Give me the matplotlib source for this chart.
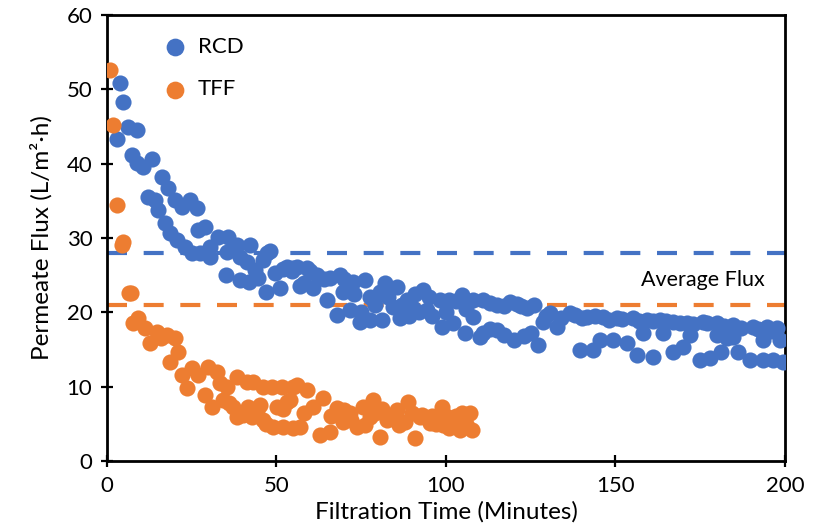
import numpy as np
import matplotlib.pyplot as plt

plt.rcParams['font.family'] = ['Lato', 'DejaVu Sans']

# RCD series (time in minutes, flux in L/m2.h)
rcd_t = [2.9, 3.8, 4.7, 6.2, 7.4, 8.8, 8.8, 10.6, 12.1, 13.3, 14.2, 15.1, 16.2, 17.1, 18.0,
         18.6, 20.0, 20.6, 22.0, 23.0, 24.5, 25.0, 26.5, 26.8, 27.4, 28.9, 30.4, 30.4, 32.7,
         35.0, 35.4, 35.7, 38.3, 39.2, 39.2, 41.3, 42.0, 42.2, 43.7, 44.5, 46.0, 47.0, 47.2,
         48.1, 49.6, 51.0, 52.0, 53.0, 54.5, 55.0, 56.0, 57.0, 58.0, 59.0, 60.0, 60.8, 62.0,
         64.0, 65.0, 65.8, 67.8, 68.7, 69.6, 70.0, 71.7, 72.6, 73.0, 74.6, 75.0, 76.0, 77.6,
         77.6, 79.0, 80.5, 81.0, 82.0, 83.0, 84.4, 85.5, 86.4, 87.0, 88.5, 89.0, 90.3, 91.0,
         92.0, 93.2, 94.4, 95.0, 96.0, 98.2, 98.8, 100.0, 101.0, 102.0, 103.0, 104.7, 105.6,
         106.0, 108.0, 108.0, 110.0, 111.0, 111.0, 113.0, 113.0, 115.0, 115.0, 117.0, 117.0,
         119.0, 120.0, 121.0, 122.0, 123.0, 124.0, 125.0, 126.0, 127.0, 128.6, 129.5, 130.7,
         132.7, 134.0, 136.6, 138.0, 139.5, 140.0, 141.6, 143.4, 144.0, 145.4, 146.3, 148.0,
         149.3, 150.4, 152.0, 153.4, 155.2, 156.3, 157.0, 158.0, 159.3, 161.0, 161.0, 163.0,
         164.0, 165.0, 167.0, 167.0, 169.0, 170.0, 171.0, 172.0, 173.0, 175.0, 175.8, 177.0,
         178.0, 180.0, 180.0, 181.0, 182.0, 183.0, 184.7, 184.7, 186.0, 187.0, 189.7, 190.6,
         192.0, 193.5, 193.5, 194.7, 196.0, 196.5, 197.6, 198.5, 199.4]
rcd_flux = [43.3, 50.8, 48.3, 44.9, 41.2, 44.5, 40.1, 39.6, 35.5, 40.6, 35.1, 33.8, 38.2, 32.0, 36.7,
            30.7, 35.1, 29.7, 34.2, 28.8, 35.1, 28.0, 34.0, 31.1, 28.0, 31.5, 28.8, 27.4, 30.1,
            25.0, 28.1, 30.1, 29.0, 27.4, 24.4, 26.8, 24.1, 29.0, 25.7, 24.6, 27.0, 22.7, 28.0,
            28.2, 25.3, 23.3, 25.8, 26.1, 25.5, 26.0, 26.1, 23.5, 24.0, 26.0, 25.5, 23.3, 25.0,
            24.5, 21.7, 24.6, 19.6, 25.0, 22.7, 24.5, 20.3, 24.1, 22.5, 18.7, 20.0, 24.4, 19.0,
            22.1, 21.0, 22.7, 19.0, 23.9, 22.0, 20.7, 23.4, 19.2, 21.0, 21.7, 19.5, 20.6, 22.5,
            20.0, 23.0, 20.3, 22.0, 19.5, 21.7, 18.0, 20.0, 21.7, 18.5, 21.5, 22.3, 17.2,
            20.5, 21.7, 19.4, 16.7, 21.7, 17.2, 21.3, 17.8, 21.0, 17.6, 20.9, 17.0,
            21.4, 16.3, 21.1, 20.8, 16.8, 20.6, 17.2, 21.0, 15.6, 18.7, 19.5, 19.9,
            18.0, 19.3, 19.9, 19.6, 14.9, 19.2, 19.4, 14.9, 19.5, 16.3, 19.4, 19.0,
            16.3, 19.2, 19.1, 15.9, 19.2, 14.3, 18.8, 17.2, 19.0, 14.0, 18.9, 19.0,
            17.2, 18.8, 18.7, 14.7, 18.5, 15.3, 18.6, 17.0, 18.4, 13.6, 18.7, 18.5,
            13.9, 18.6, 17.0, 14.7, 18.2, 16.5, 18.3, 16.7, 14.7, 17.9, 13.6, 18.0,
            17.7, 13.6, 16.3, 18.0, 17.5, 13.6, 17.9, 16.3, 13.3]

# TFF series
tff_t = [0.9, 1.8, 2.9, 4.4, 4.7, 6.5, 7.1, 7.7, 9.1, 11.2, 12.7, 14.7, 16.0, 17.7, 18.6, 20.0,
         21.0, 22.0, 23.6, 25.0, 26.8, 28.9, 29.8, 31.0, 32.4, 33.3, 34.2, 35.4, 36.0, 37.2,
         38.3, 38.3, 40.0, 41.3, 41.6, 42.8, 43.1, 44.2, 45.0, 46.0, 46.0, 47.0, 48.6, 49.0,
         50.1, 51.6, 51.9, 52.0, 53.0, 54.0, 54.9, 54.9, 56.0, 57.0, 58.0, 59.0, 60.8, 62.8,
         63.7, 65.8, 66.0, 67.8, 69.6, 70.0, 71.7, 72.0, 73.7, 75.5, 76.0, 77.6, 78.5, 79.0,
         80.5, 81.0, 82.6, 84.0, 85.5, 86.0, 87.9, 88.8, 90.0, 90.9, 92.3, 93.0, 95.3, 96.0,
         97.0, 98.8, 99.1, 100.0, 101.0, 102.0, 103.0, 104.0, 104.7, 106.0, 107.0, 107.7]
tff_flux = [52.6, 45.2, 34.4, 29.1, 29.4, 22.6, 22.6, 18.6, 19.2, 17.9, 15.9, 17.4, 16.5, 17.0, 13.3, 16.5,
            14.7, 11.6, 9.8, 12.5, 11.6, 8.9, 12.7, 7.3, 12.0, 10.5, 8.2, 10.0, 7.8, 7.3,
            11.3, 5.9, 6.2, 10.6, 7.3, 5.9, 10.6, 6.9, 7.5, 10.0, 5.5, 5.0, 10.0, 4.6,
            7.3, 10.0, 4.6, 7.0, 8.0, 8.2, 4.4, 10.0, 10.2, 4.6, 6.5, 9.6, 7.3, 3.5,
            8.5, 3.9, 6.0, 7.1, 5.3, 6.8, 6.5, 5.5, 4.6, 7.3, 4.8, 5.9, 8.2, 6.5,
            3.2, 7.0, 5.5, 6.0, 6.9, 4.8, 5.3, 7.9, 6.5, 3.1, 5.9, 6.2, 5.1, 6.0,
            5.0, 7.3, 4.8, 6.0, 4.5, 5.5, 6.0, 4.2, 6.5, 5.0, 6.5, 4.2]

rcd_avg = 28.0
tff_avg = 21.0

blue = '#4472C4'
orange = '#ED7D31'

fig = plt.figure(figsize=(8.25, 5.28), dpi=100)
ax = fig.add_axes([0.1297, 0.1269, 0.8218, 0.8447])

ax.scatter(rcd_t, rcd_flux, s=135, color=blue, label='RCD', zorder=3, linewidths=0)
ax.scatter(tff_t, tff_flux, s=135, color=orange, label='TFF', zorder=3, linewidths=0)

ax.plot([0, 200], [rcd_avg, rcd_avg], color=blue, lw=3.0, dashes=(4.8, 4.0), zorder=2)
ax.plot([0, 200], [tff_avg, tff_avg], color=orange, lw=3.0, dashes=(4.8, 4.0), zorder=2)
ax.text(194, 23.0, 'Average Flux', fontsize=15.5, ha='right', va='bottom')

ax.set_xlim(0, 200)
ax.set_ylim(0, 60)
ax.set_xticks(range(0, 201, 50))
ax.set_yticks(range(0, 61, 10))
ax.tick_params(direction='inout', length=9, width=1.6, labelsize=16, pad=6)
for sp in ax.spines.values():
    sp.set_linewidth(2.0)

ax.set_xlabel('Filtration Time (Minutes)', fontsize=17.5, labelpad=4)
ax.set_ylabel('Permeate Flux (L/m²·h)', fontsize=17.5, labelpad=10)

ax.legend(loc='upper left', bbox_to_anchor=(0.045, 0.985), frameon=False, fontsize=16,
          handletextpad=0.0, labelspacing=1.0, borderaxespad=0.3, markerscale=1.1)

fig.savefig('out.png', dpi=100)
